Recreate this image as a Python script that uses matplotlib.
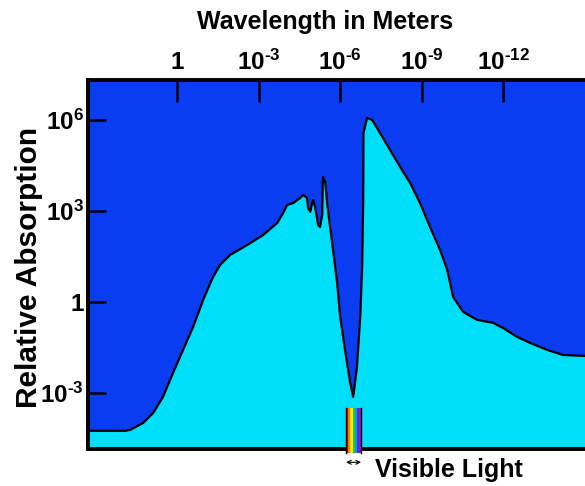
import numpy as np
import matplotlib
matplotlib.use("Agg")
import matplotlib.pyplot as plt
import matplotlib.transforms as mtransforms

plt.rcParams['font.family'] = ['Liberation Sans', 'DejaVu Sans']
plt.rcParams['font.weight'] = 'bold'
plt.rcParams['mathtext.fontset'] = 'custom'
plt.rcParams['mathtext.rm'] = 'Liberation Sans:bold'
plt.rcParams['mathtext.bf'] = 'Liberation Sans:bold'
plt.rcParams['mathtext.default'] = 'bf'

# log10 of wavelength (m) and log10 of relative absorption
log_wavelength = [3.28, 1.91, 1.73, 1.25, 0.88, 0.52, 0.15, -0.22, -0.59, -0.96,
                  -1.32, -1.58, -1.95, -2.58, -3.17, -3.68, -3.90, -4.05, -4.27,
                  -4.53, -4.64, -4.78, -4.82, -4.90, -4.97, -5.01, -5.08, -5.19,
                  -5.26, -5.34, -5.36, -5.37, -5.45, -5.52, -5.63, -5.74, -5.89,
                  -6.00, -6.18, -6.37, -6.48, -6.62, -6.74, -6.81, -6.85, -6.86,
                  -6.99, -7.18, -7.47, -7.84, -8.21, -8.58, -8.94, -9.31, -9.68,
                  -9.94, -10.16, -10.53, -11.04, -11.63, -12.00, -12.51, -12.99,
                  -13.62, -14.21, -15.02]
log_absorption = [-4.25, -4.25, -4.22, -3.99, -3.66, -3.13, -2.34, -1.58, -0.82, 0.07,
                  0.82, 1.22, 1.55, 1.88, 2.21, 2.60, 2.93, 3.20, 3.26,
                  3.43, 3.53, 3.43, 3.10, 2.97, 3.26, 3.36, 3.13, 2.54,
                  2.47, 2.87, 3.92, 4.12, 3.96, 3.26, 2.47, 1.71, 0.63,
                  -0.49, -1.58, -2.67, -3.13, -2.14, -0.49, 1.15, 3.36, 5.57,
                  6.07, 6.00, 5.57, 5.01, 4.45, 3.92, 3.26, 2.47, 1.71,
                  1.06, 0.16, -0.33, -0.59, -0.69, -0.86, -1.15, -1.35,
                  -1.58, -1.75, -1.78]

top_ticks = [1, 1e-3, 1e-6, 1e-9, 1e-12]
top_labels = ['1', r'$10^{\text{-}3}$', r'$10^{\text{-}6}$', r'$10^{\text{-}9}$', r'$10^{\text{-}12}$']
left_ticks = [1e6, 1e3, 1, 1e-3]
left_labels = [r'$10^{6}$', r'$10^{3}$', '1', r'$10^{\text{-}3}$']

visible_log_range = [-6.22, -6.77]
rainbow = ['#d40000', '#ff7a00', '#ffe600', '#2cc22c', '#00a0e0', '#3030ff', '#c000c0']

DARK_BLUE = '#0a3cf2'
CYAN = '#00dffa'

W, H = 585, 486
fig = plt.figure(figsize=(W / 100, H / 100), dpi=100)
fig.patch.set_facecolor('white')
AX_W = (585 - 88) + 6
ax = fig.add_axes([88 / W, 1 - 449 / H, AX_W / W, (449 - 80) / H])
ax.set_facecolor(DARK_BLUE)

x = 10 ** np.array(log_wavelength)
y = 10 ** np.array(log_absorption)
ylo, yhi = 10 ** -4.85, 10 ** 7.32
ax.fill_between(x, y, ylo, color=CYAN, zorder=1, linewidth=0)
ax.plot(x, y, color='black', lw=1.6, zorder=2)

ax.set_xscale('log')
ax.set_yscale('log')
ax.set_xlim(10 ** 3.28, 10 ** (3.28 - AX_W / 27.17))
ax.set_ylim(ylo, yhi)

ax.minorticks_off()
ax.xaxis.set_ticks_position('top')
ax.set_xticks(top_ticks)
ax.set_xticklabels(top_labels)
ax.set_yticks(left_ticks)
ax.set_yticklabels(left_labels)
ax.tick_params(axis='x', which='major', direction='in', length=16, width=1.8,
               labelsize=17.5, pad=4, top=True, bottom=False)
ax.tick_params(axis='y', which='major', direction='in', length=13, width=1.8,
               labelsize=17.5, pad=3)
for s in ['left', 'top', 'bottom']:
    ax.spines[s].set_linewidth(2.8)
ax.spines['right'].set_visible(False)

ax.set_ylabel('Relative Absorption', fontsize=21.5, fontweight='bold')
ax.yaxis.set_label_coords((43 - 88) / AX_W, (449 - 267) / 369)
fig.text(325 / W, 1 - 22 / H, 'Wavelength in Meters', ha='center', va='center',
         fontsize=18, fontweight='bold')

# visible light rainbow bar
trans = mtransforms.blended_transform_factory(ax.transData, ax.transAxes)
edges = np.logspace(visible_log_range[0], visible_log_range[1], len(rainbow) + 1)
for i, c in enumerate(rainbow):
    ax.fill_between([edges[i], edges[i + 1]], -0.012, 0.111, color=c, transform=trans,
                    clip_on=False, zorder=5, linewidth=0)
ax.plot([edges[0], edges[0]], [-0.012, 0.111], color='black', lw=1, transform=trans,
        clip_on=False, zorder=6)
ax.plot([edges[-1], edges[-1]], [-0.012, 0.111], color='black', lw=1, transform=trans,
        clip_on=False, zorder=6)
ax.annotate('', xy=(edges[0], -0.036), xytext=(edges[-1], -0.036),
            xycoords=trans, textcoords=trans,
            arrowprops=dict(arrowstyle='<->', color='black', lw=0.8,
                            shrinkA=0, shrinkB=0, mutation_scale=7))
fig.text(375 / W, 1 - 470 / H, 'Visible Light', ha='left', va='center',
         fontsize=18, fontweight='bold')

fig.savefig('out.png', dpi=100)
